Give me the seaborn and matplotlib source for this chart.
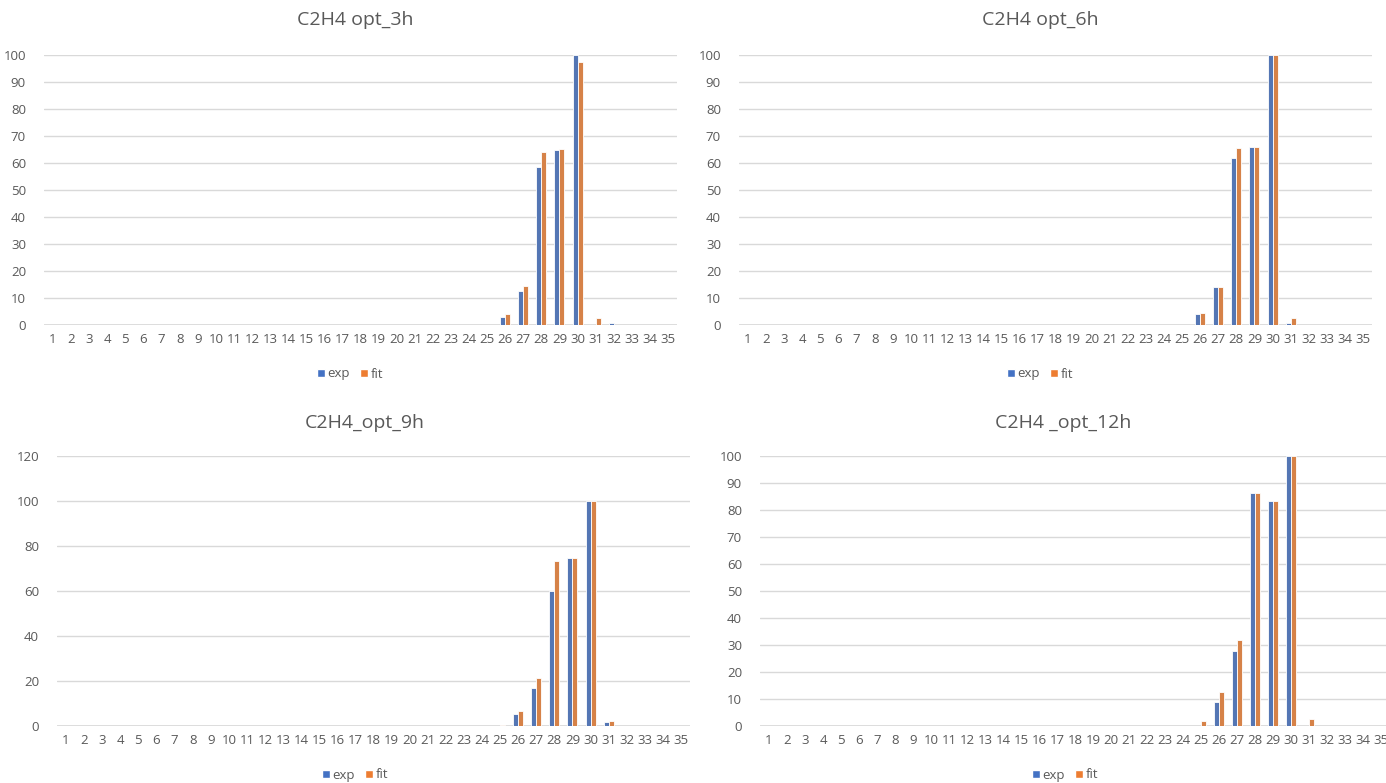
import matplotlib
matplotlib.use("Agg")
import matplotlib.pyplot as plt
import seaborn as sns
import pandas as pd
from matplotlib.patches import Patch

categories = list(range(1, 36))

exp_3h = [0]*25 + [3.1, 12.5, 58.6, 64.9, 100.0, 0.0, 0.9, 0, 0, 0]
fit_3h = [0]*25 + [4.0, 14.5, 63.9, 65.1, 97.3, 2.6, 0.0, 0, 0, 0]

exp_6h = [0]*25 + [4.0, 14.2, 61.8, 66.0, 100.0, 0.9, 0, 0, 0, 0]
fit_6h = [0]*25 + [4.3, 14.2, 65.4, 66.0, 100.0, 2.6, 0, 0, 0, 0]

exp_9h = [0]*24 + [0.0, 5.3, 16.7, 59.9, 74.7, 100.0, 1.6, 0, 0, 0, 0]
fit_9h = [0]*24 + [0.5, 6.8, 21.3, 73.2, 74.7, 100.0, 2.4, 0, 0, 0, 0]

exp_12h = [0]*24 + [0.0, 9.0, 27.8, 86.4, 83.3, 100.0, 0.0, 0, 0, 0, 0]
fit_12h = [0]*24 + [1.9, 12.7, 31.7, 86.4, 83.5, 100.0, 2.6, 0, 0, 0, 0]

titles = ["C2H4 opt_3h", "C2H4 opt_6h", "C2H4_opt_9h", "C2H4 _opt_12h"]
series_names = ["exp", "fit"]
colors = ["#4472C4", "#ED7D31"]

sns.set_theme(style="white")
plt.rcParams['font.family'] = ['Open Sans', 'DejaVu Sans']

W, H = 1386, 783
fig = plt.figure(figsize=(W/100, H/100), dpi=100)

# (left, right, top_y, zero_y) in pixels
boxes = [
    (44, 677, 55, 325),
    (739, 1372, 55, 325),
    (57, 690, 456, 726),
    (760, 1390, 456, 726),
]
ymax = [100, 100, 120, 100]
ystep = [10, 10, 20, 10]
data = [(exp_3h, fit_3h), (exp_6h, fit_6h), (exp_9h, fit_9h), (exp_12h, fit_12h)]
title_pos = [(355, 20), (1040, 20), (365, 423), (1063, 423)]
legend_pos = [(350, 374), (1040, 374), (355, 775), (1065, 775)]

text_color = "#595959"
grid_color = "#D9D9D9"

for i in range(4):
    l, r, t, b = boxes[i]
    ax = fig.add_axes([l/W, (H-b)/H, (r-l)/W, (b-t)/H])
    e, f = data[i]
    df = pd.DataFrame({
        "cat": categories*2,
        "val": list(e) + list(f),
        "series": ["exp"]*35 + ["fit"]*35,
    })
    sns.barplot(data=df, x="cat", y="val", hue="series", order=categories,
                hue_order=series_names, palette=colors, width=0.55,
                edgecolor="white", linewidth=0.6, ax=ax, legend=False)
    ax.set_xlim(-0.5, 34.5)
    ax.set_ylim(0, ymax[i])
    ax.set_yticks(range(0, ymax[i]+1, ystep[i]))
    ax.set_xlabel("")
    ax.set_ylabel("")
    for s in ax.spines.values():
        s.set_visible(False)
    ax.grid(axis="y", color=grid_color, linewidth=1)
    ax.grid(axis="x", visible=False)
    ax.set_axisbelow(True)
    ax.tick_params(axis="both", length=0, labelsize=9.5, colors=text_color, pad=6)
    ax.tick_params(axis="y", pad=13)
    ax.axhline(0, color=grid_color, linewidth=1.2, zorder=0.5)

    tx, ty = title_pos[i]
    fig.text(tx/W, 1-ty/H, titles[i], ha="center", va="center",
             fontsize=14, color=text_color)

    lx, ly = legend_pos[i]
    handles = [Patch(facecolor=colors[0]), Patch(facecolor=colors[1])]
    fig.legend(handles, series_names, loc="center", bbox_to_anchor=(lx/W, 1-ly/H),
               ncol=2, frameon=False, fontsize=9.5, handlelength=0.6, handleheight=0.6,
               handletextpad=0.2, columnspacing=0.8, labelcolor=text_color)

fig.savefig("out.png", dpi=100)
